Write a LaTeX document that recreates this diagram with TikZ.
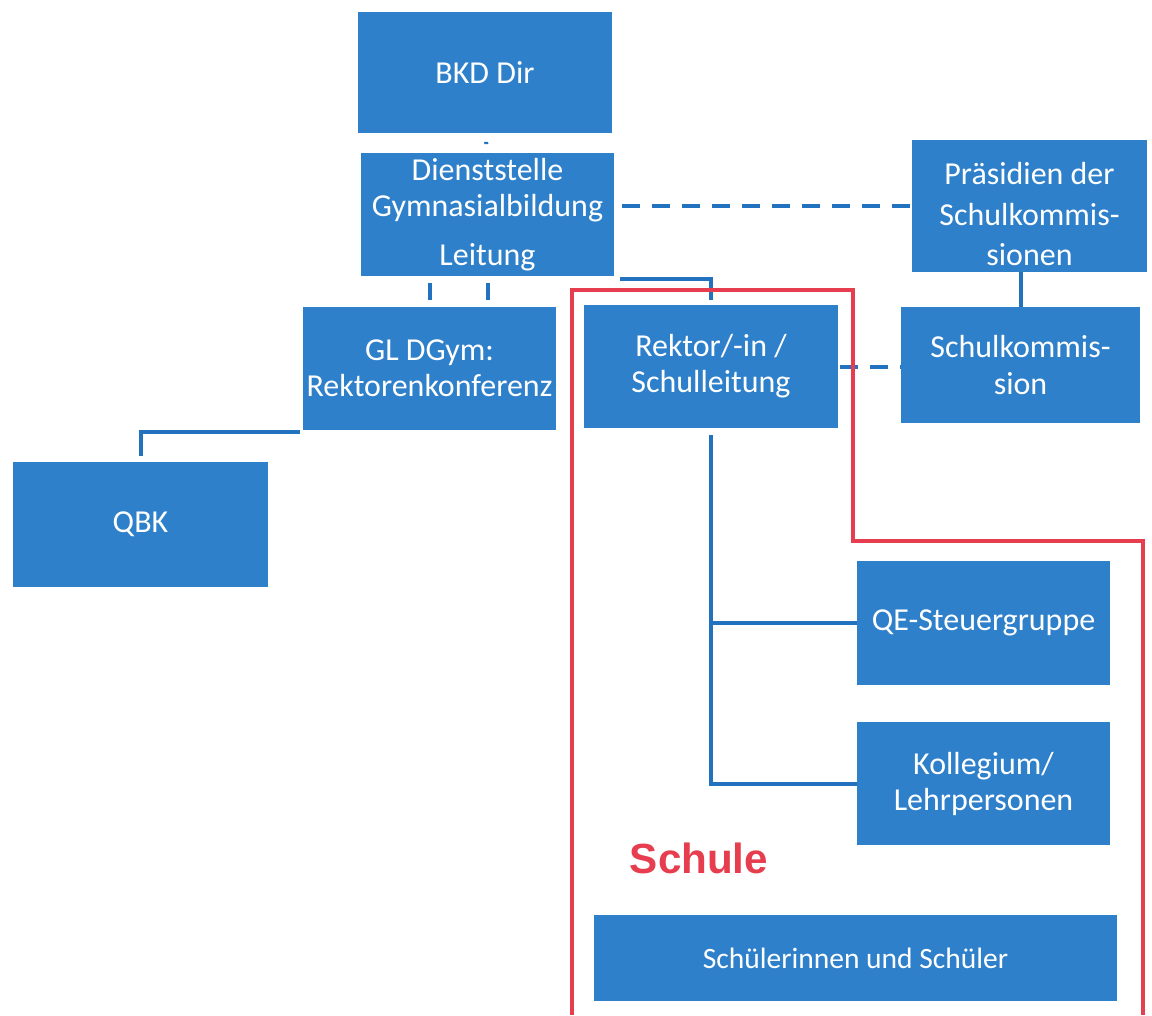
\documentclass[tikz,border=0pt]{standalone}
\usepackage{fontspec}
\setmainfont{Carlito}
\newfontfamily\schulefont{Liberation Sans}
\usetikzlibrary{positioning}

\definecolor{boxblue}{RGB}{46,128,202}
\definecolor{lineblue}{RGB}{34,114,192}
\definecolor{framered}{RGB}{230,62,78}

\tikzset{
  box/.style={draw=none, fill=boxblue, text=white, inner sep=0cm,
              align=center, font=\fontsize{18.2}{20.5}\selectfont},
  link/.style={draw=lineblue, line width=0.08cm},
  dashlink/.style={link, dash pattern=on 0.36cm off 0.24cm},
  frame/.style={draw=framered, line width=0.08cm}
}

\begin{document}
\begin{tikzpicture}[x=0.02cm, y=-0.02cm]
\useasboundingbox (0,0) rectangle (1152,1015);

\node[box, minimum width=5.08cm, minimum height=2.42cm] (bkd) at (485,72.5) {BKD Dir};
\node[box, minimum width=5.06cm, minimum height=2.46cm] (dienst) at (487.5,214.5)
  {Dienststelle\\Gymnasialbildung\\[0.26cm]Leitung};
\node[box, minimum width=4.70cm, minimum height=2.64cm] (praes) at (1029.5,206)
  {\rule{0pt}{0.75cm}Präsidien der\\[0.1cm]Schulkommis-\\[0.08cm]sionen};
\node[box, minimum width=5.06cm, minimum height=2.46cm] (gl) at (429.5,368.5)
  {GL DGym:\\Rektorenkonferenz};
\node[box, minimum width=5.08cm, minimum height=2.46cm] (rektor) at (711,366.5)
  {Rektor/-in /\\Schulleitung};
\node[box, minimum width=4.78cm, minimum height=2.32cm] (skom) at (1020.5,365)
  {Schulkommis-\\sion};
\node[box, minimum width=5.10cm, minimum height=2.50cm] (qbk) at (140.5,524.5) {QBK};
\node[box, minimum width=5.06cm, minimum height=2.48cm] (qe) at (983.5,623) {QE-Steuergruppe};
\node[box, minimum width=5.06cm, minimum height=2.46cm] (koll) at (983.5,783.5)
  {Kollegium/\\Lehrpersonen};
\node[box, minimum width=10.46cm, minimum height=1.72cm,
      font=\fontsize{16.8}{19}\selectfont] (schueler) at (855.5,958)
  {Schülerinnen und Schüler};

\draw[link, shorten <=0.17cm, shorten >=0.17cm] (bkd) -- (dienst);
\draw[dashlink, shorten <=0.16cm] (dienst.east |- praes.west) -- (praes.west);
\draw[link, shorten <=0.14cm, shorten >=0.14cm] (gl.north |- dienst.south) -- (gl.north);
\draw[link, shorten <=0.14cm, shorten >=0.14cm] (dienst.south) -- (dienst.south |- gl.north);
\draw[link] ([xshift=0.12cm, yshift=-0.06cm]dienst.south east) -| ([yshift=0.1cm]rektor.north);
\draw[link] (skom.north |- praes.south) -- (skom.north);
\draw[dashlink, shorten <=0.04cm] (rektor.east) -- (skom.west |- rektor.east);
\draw[link] ([xshift=-0.06cm, yshift=-0.04cm]gl.south west) -| ([yshift=0.12cm]qbk.north);
\draw[link, shorten <=0.14cm] (rektor.south) |- (koll.west);
\draw[link] (rektor.south |- qe.west) -- (qe.west);

\draw[frame] (572,1015) -- (572,290) -- (853,290) -- (853,541) -- (1143,541) -- (1143,1015);
\node[text=framered, font=\schulefont\bfseries\fontsize{24}{28}\selectfont] (schule) at (699,858) {Schule};
\end{tikzpicture}
\end{document}
